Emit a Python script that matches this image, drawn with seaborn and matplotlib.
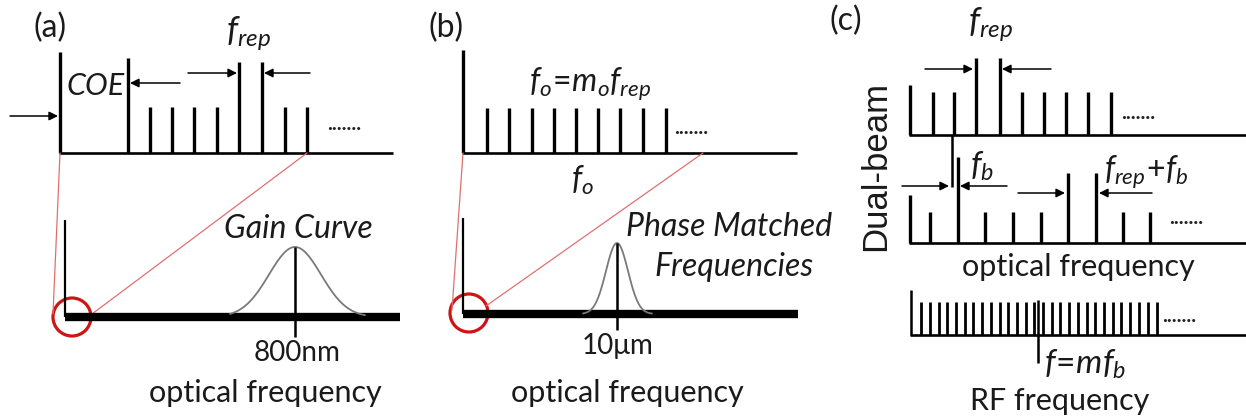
import numpy as np
import pandas as pd
import matplotlib
matplotlib.use("Agg")
import matplotlib.pyplot as plt
import seaborn as sns
from matplotlib.patches import Circle

sns.set_theme(style="white")
plt.rcParams["font.family"] = ["Lato", "DejaVu Sans"]
plt.rcParams["mathtext.fontset"] = "custom"
plt.rcParams["mathtext.it"] = "Lato:italic"
plt.rcParams["mathtext.rm"] = "Lato"
plt.rcParams["mathtext.bf"] = "Lato:bold"

# ---- panel (a): comb with carrier-offset seed line -------------------------
a_base = 153
a_seed = (60, 52)                       # x, top
a_teeth_x = [128, 150, 172, 194, 217, 239, 262, 285, 307]
a_teeth_top = [58, 107, 107, 107, 107, 62, 62, 107, 107]
a_axis_end = 393
a_gain_center, a_gain_sigma, a_gain_peak = 295, 26, 247
a_gain_span = (230, 365)
a_low_base, a_low_axis_top, a_low_end = 317, 220, 400

# ---- panel (b): comb, phase matched band -----------------------------------
b_base = 153
b_axis = (463, 50)
b_teeth_x = [487, 509, 532, 554, 576, 598, 620, 643, 666]
b_teeth_top = [108] * 9
b_axis_end = 797
b_pm_center, b_pm_sigma, b_pm_peak = 617, 11, 243
b_pm_span = (583, 652)
b_low_base, b_low_axis_top, b_low_end = 314, 218, 798

# ---- panel (c): dual-beam combs and RF comb ----------------------------------
c1_base, c1_axis = 135, (910, 85)
c1_teeth_x = [933, 954, 976, 1000, 1022, 1044, 1066, 1088, 1111]
c1_teeth_top = [92, 92, 58, 58, 92, 92, 92, 92, 92]
c2_base, c2_axis = 243, (910, 195)
c2_teeth_x = [930, 958, 985, 1013, 1041, 1068, 1096, 1123, 1150]
c2_teeth_top = [212, 157, 212, 212, 212, 173, 173, 212, 212]
rf_base, rf_axis = 335, (911, 290)
rf_teeth_x = [921, 930, 939, 947, 956, 965, 973, 982, 991, 1000, 1008, 1017,
              1026, 1034, 1043, 1052, 1060, 1069, 1078, 1087, 1095, 1104,
              1113, 1121, 1130, 1139, 1148, 1157]
rf_teeth_top = 302
rf_marker = (1038, 300, 363)

W, H = 1246, 419
fig = plt.figure(figsize=(W / 100, H / 100), dpi=100)
ax = fig.add_axes([0, 0, 1, 1])
ax.set_xlim(0, W)
ax.set_ylim(H, 0)
ax.axis("off")

K = "black"
TXT = "#1a1a1a"
TOOTH_LW = 2.4
BASE_LW = 1.9
THICK_LW = 6.0
RED_THIN = "#e07070"
RED_RING = "#cc1515"
FS_IT = 22      # italic annotations
FS_UP = 20      # wavelength labels
FS_AX = 22      # axis captions
FS_SYM = 24     # frequency symbols


def comb(xs, tops, base, lw=TOOTH_LW):
    ax.vlines(xs, tops, base, color=K, lw=lw, capstyle="butt")


def hline(x0, x1, y, lw=BASE_LW):
    sns.lineplot(x=[x0, x1], y=[y, y], ax=ax, color=K, lw=lw,
                 solid_capstyle="butt", sort=False)


def arrow(tail, head):
    ax.annotate("", xy=head, xytext=tail,
                arrowprops=dict(arrowstyle="-|>", color=K, lw=1.1,
                                mutation_scale=13, shrinkA=0, shrinkB=0))


def dots(x0, y):
    ax.text(x0, y, ".......", fontsize=15, fontweight="bold", ha="left",
            va="baseline", color="#222222")


def label(x, y, s, size, **kw):
    kw.setdefault("ha", "center")
    kw.setdefault("va", "center")
    ax.text(x, y, s, fontsize=size, color=TXT, **kw)


def bell(center, sigma, peak, span, base):
    xs = np.linspace(span[0], span[1], 120)
    ys = base - (base - peak) * np.exp(-0.5 * ((xs - center) / sigma) ** 2)
    df = pd.DataFrame({"x": xs, "y": ys})
    sns.lineplot(data=df, x="x", y="y", ax=ax, color="#7a7a7a", lw=1.3,
                 sort=False)


# ---------------- (a) ----------------
label(50, 28, "(a)", 23)
hline(a_seed[0] - 1, a_axis_end, a_base)
comb([a_seed[0]], [a_seed[1]], a_base)
comb(a_teeth_x, a_teeth_top, a_base)
arrow((10, 116), (58, 116))
arrow((180, 83), (130, 83))
arrow((188, 73), (237, 73))
arrow((310, 73), (264, 73))
label(96, 86, "COE", FS_IT, style="italic")
label(248, 34, r"$f_{rep}$", FS_SYM + 1)
dots(327, 130)

ax.plot([60, 53], [a_base, 314], color=RED_THIN, lw=0.9)
ax.plot([a_teeth_x[-1], 92], [a_base, 314], color=RED_THIN, lw=0.9)
ax.vlines([65], a_low_axis_top, a_low_base, color=K, lw=1.6)
hline(65, a_low_end, a_low_base, lw=THICK_LW)
bell(a_gain_center, a_gain_sigma, a_gain_peak, a_gain_span, a_low_base)
ax.vlines([a_gain_center], a_gain_peak, 337, color=K, lw=1.8)
ax.add_patch(Circle((72, 317), 19, fill=False, ec=RED_RING, lw=2.3))
label(298, 229, "Gain Curve", FS_IT + 1, style="italic")
label(297, 353, "800nm", FS_UP)
label(265, 393, "optical frequency", FS_AX)

# ---------------- (b) ----------------
label(446, 28, "(b)", 23)
hline(b_axis[0] - 1, b_axis_end, b_base)
comb([b_axis[0]], [b_axis[1]], b_base)
comb(b_teeth_x, b_teeth_top, b_base)
label(590, 84, r"$f_o\!=\!m_o f_{rep}$", FS_SYM - 1)
label(582, 180, r"$f_o$", FS_SYM - 1)
dots(674, 134)

ax.plot([b_axis[0], 452], [b_base, 310], color=RED_THIN, lw=0.9)
ax.plot([703, 486], [b_base, 306], color=RED_THIN, lw=0.9)
ax.vlines([463], b_low_axis_top, b_low_base, color=K, lw=1.6)
hline(463, b_low_end, b_low_base, lw=THICK_LW)
bell(b_pm_center, b_pm_sigma, b_pm_peak, b_pm_span, b_low_base)
ax.vlines([b_pm_center], b_pm_peak, 330, color=K, lw=1.8)
ax.add_patch(Circle((469, 313), 19, fill=False, ec=RED_RING, lw=2.3))
label(729, 227, "Phase Matched", FS_IT + 1, style="italic")
label(734, 267, "Frequencies", FS_IT + 1, style="italic")
label(618, 346, "10\u03bcm", FS_UP)
label(627, 393, "optical frequency", FS_AX)

# ---------------- (c) ----------------
label(846, 21, "(c)", 23)
label(876, 166, "Dual-beam", 25, rotation=90,
      family=["Liberation Sans", "DejaVu Sans"])
label(990, 25, r"$f_{rep}$", FS_SYM + 1)

hline(c1_axis[0] - 1, W, c1_base)
comb([c1_axis[0]], [c1_axis[1]], c1_base)
comb(c1_teeth_x, c1_teeth_top, c1_base)
ax.vlines([952], c1_base, 187, color=K, lw=1.8)
arrow((925, 69), (973, 69))
arrow((1051, 69), (1002, 69))
dots(1121, 119)

hline(c2_axis[0] - 1, W, c2_base)
comb([c2_axis[0]], [c2_axis[1]], c2_base)
comb(c2_teeth_x, c2_teeth_top, c2_base)
arrow((902, 186), (949, 186))
arrow((1007, 186), (960, 186))
arrow((1018, 193), (1065, 193))
arrow((1152, 193), (1099, 193))
label(982, 166, r"$f_b$", FS_SYM)
label(1146, 172, r"$f_{rep}\!+\!f_b$", FS_SYM - 1)
dots(1169, 224)
label(1078, 267, "optical frequency", FS_AX)

hline(rf_axis[0] - 1, W, rf_base)
comb([rf_axis[0]], [rf_axis[1]], rf_base, lw=1.8)
comb(rf_teeth_x, [rf_teeth_top] * len(rf_teeth_x), rf_base, lw=2.0)
ax.vlines([rf_marker[0]], rf_marker[1], rf_marker[2], color=K, lw=1.8)
dots(1162, 322)
label(1044, 364, r"$f\!=\!mf_b$", FS_SYM, ha="left")
label(1060, 401, "RF frequency", FS_AX)

fig.savefig("out.png", dpi=100)
